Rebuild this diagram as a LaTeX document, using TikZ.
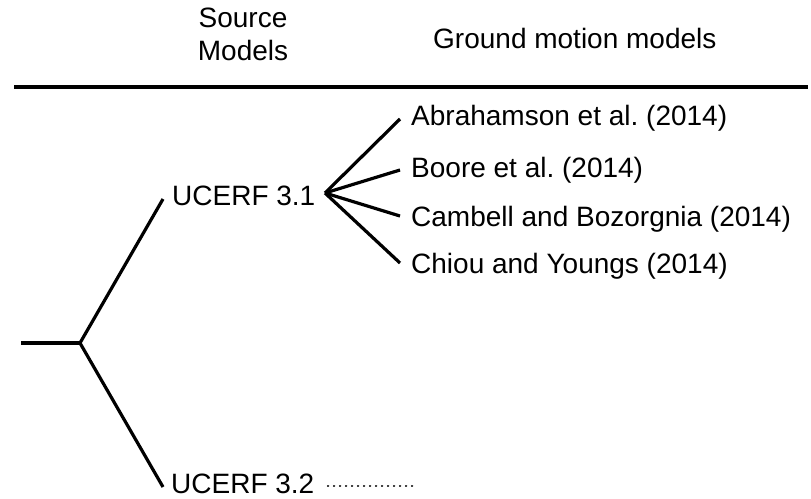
\documentclass[tikz,border=0pt]{standalone}
\usepackage{fontspec}
\setmainfont{Liberation Sans}
\frenchspacing
\begin{document}
\begin{tikzpicture}[x=1pt,y=-1pt,
  txt/.style={inner sep=0pt,anchor=base west,font=\fontsize{28}{33}\selectfont},
  branch/.style={line width=3.2pt,line join=miter},
  rule/.style={line width=4pt},
  dots/.style={line width=2.4pt,line cap=round,dash pattern=on 0.1pt off 5.9pt}]
\useasboundingbox (0,0) rectangle (811,498);
% header
\node[txt,anchor=base,align=center] (src) at (243,60) {Source\\Models};
\node[txt] (gmm) at (433,48) {Ground motion models};
\coordinate (rl) at (14,87);
\coordinate (rr) at (808,87);
\draw[rule] (rl) -- (rr);
% tree
\coordinate (root) at (21,343);
\coordinate (fork) at (80,343);
\coordinate (u1end) at (163,199);
\coordinate (u2end) at (163,487);
\node[txt] (u1) at (172,205) {UCERF 3.1};
\node[txt] (u2) at (171,493) {UCERF 3.2};
\coordinate (fan) at (325,193);
\coordinate (g1end) at (400,119);
\coordinate (g2end) at (400,170);
\coordinate (g3end) at (400,216);
\coordinate (g4end) at (400,263);
\node[txt] (g1) at (411,125) {Abrahamson et al. (2014)};
\node[txt] (g2) at (411,177) {Boore et al. (2014)};
\node[txt] (g3) at (411,226) {Cambell and Bozorgnia (2014)};
\node[txt] (g4) at (411,273) {Chiou and Youngs (2014)};
\draw[branch] (root) -- (fork);
\draw[branch] (fork) -- (u1end);
\draw[branch] (fork) -- (u2end);
\draw[branch] (fan) -- (g1end);
\draw[branch] (fan) -- (g2end);
\draw[branch] (fan) -- (g3end);
\draw[branch] (fan) -- (g4end);
\coordinate (dend) at (415,486);
\draw[dots] (328,486) -- (dend);
\end{tikzpicture}
\end{document}
